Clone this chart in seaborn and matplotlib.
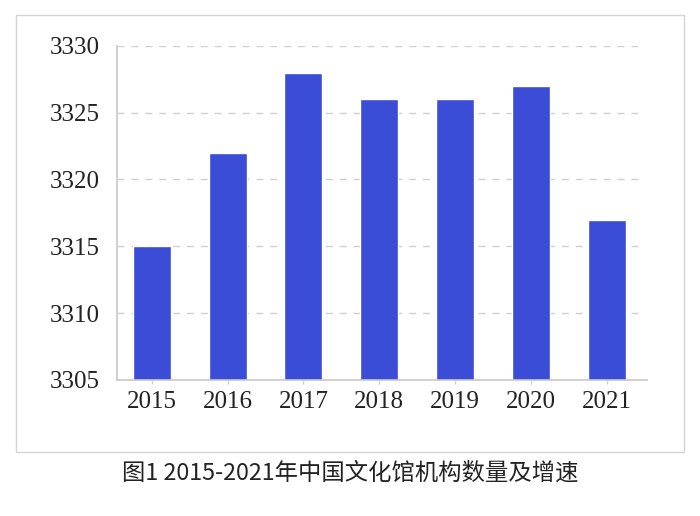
import matplotlib
matplotlib.use('Agg')
import matplotlib.pyplot as plt
import seaborn as sns
import pandas as pd
from matplotlib.patches import Rectangle

years = ['2015', '2016', '2017', '2018', '2019', '2020', '2021']
counts = [3315, 3322, 3328, 3326, 3326, 3327, 3317]
yticks = [3305, 3310, 3315, 3320, 3325, 3330]
title = '图1 2015-2021年中国文化馆机构数量及增速'

sns.set_theme(style='white')
plt.rcParams['font.family'] = ['Liberation Serif', 'DejaVu Serif']

df = pd.DataFrame({'year': years, 'count': counts})

fig = plt.figure(figsize=(7, 5.16), dpi=100)
# outer frame around the chart
fig.patches.append(Rectangle((0.023, 0.124), 0.954, 0.847, transform=fig.transFigure,
                             fill=False, edgecolor='#d4d4d4', linewidth=1.0))
ax = fig.add_axes([0.167, 0.264, 0.757, 0.647])

sns.barplot(data=df, x='year', y='count', color='#3b4cd6', saturation=1,
            width=0.5, ax=ax)

ax.set_ylim(3305, 3330)
ax.set_xlim(-0.46, 6.53)
ax.set_yticks(yticks)
ax.set_yticklabels([str(v) for v in yticks])
ax.set_xlabel('')
ax.set_ylabel('')

for v in yticks[1:]:
    ax.axhline(v, xmin=0, xmax=0.99, color='#d0d0d0', linestyle=(0, (5, 5)),
               linewidth=1.0, zorder=0)

for side in ['top', 'right']:
    ax.spines[side].set_visible(False)
for side in ['left', 'bottom']:
    ax.spines[side].set_color('#c8c8c8')
    ax.spines[side].set_linewidth(1.2)

ax.tick_params(axis='y', length=0, pad=12, labelsize=18, colors='#222222')
ax.tick_params(axis='x', length=3, width=1, color='#d0d0d0', pad=5,
               labelsize=18, labelcolor='#222222', bottom=True)

fig.text(0.5, 0.083, title, ha='center', va='center', fontsize=16.8,
         fontweight='medium', color='#222222',
         family=['Noto Sans CJK SC', 'DejaVu Sans'])

fig.savefig('out.png', dpi=100)
